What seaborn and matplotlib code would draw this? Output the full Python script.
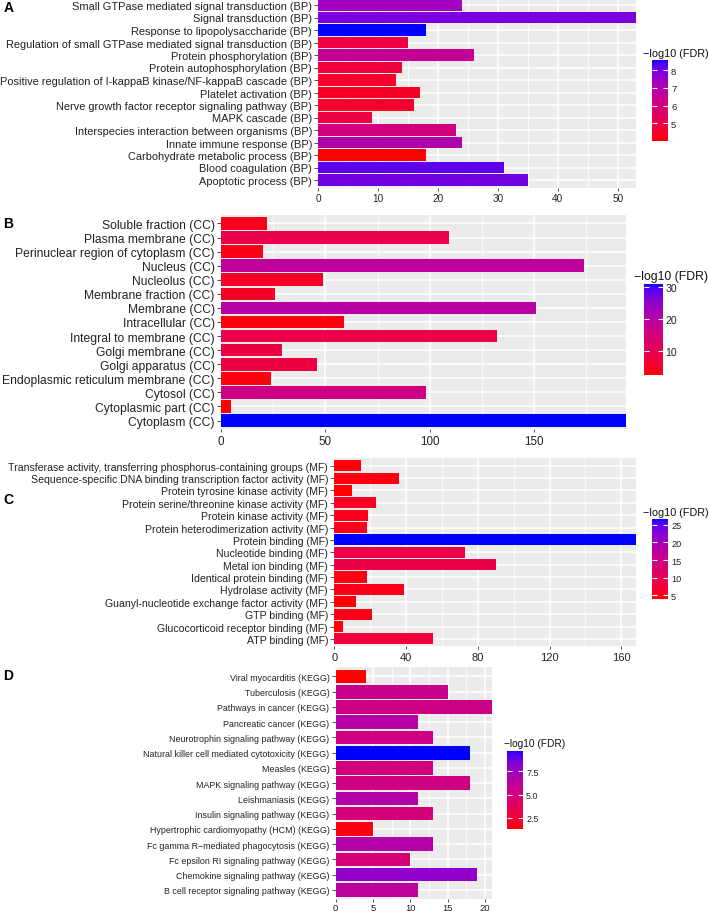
import numpy as np
import pandas as pd
import matplotlib
matplotlib.use("Agg")
import matplotlib.pyplot as plt
import seaborn as sns
from matplotlib.colors import ListedColormap, Normalize
from matplotlib.cm import ScalarMappable
from matplotlib.ticker import MultipleLocator

plt.rcParams['font.family'] = ['Liberation Sans', 'DejaVu Sans']

# ---- data ----
bp_terms = ["Small GTPase mediated signal transduction (BP)", "Signal transduction (BP)",
            "Response to lipopolysaccharide (BP)",
            "Regulation of small GTPase mediated signal transduction (BP)",
            "Protein phosphorylation (BP)", "Protein autophosphorylation (BP)",
            "Positive regulation of I-kappaB kinase/NF-kappaB cascade (BP)",
            "Platelet activation (BP)", "Nerve growth factor receptor signaling pathway (BP)",
            "MAPK cascade (BP)", "Interspecies interaction between organisms (BP)",
            "Innate immune response (BP)", "Carbohydrate metabolic process (BP)",
            "Blood coagulation (BP)", "Apoptotic process (BP)"]
bp_count = [24, 53, 18, 15, 26, 14, 13, 17, 16, 9, 23, 24, 18, 31, 35]
bp_fdr = [7.3, 7.9, 8.58, 4.9, 6.5, 4.8, 4.5, 4.4, 4.5, 4.9, 6.1, 7.0, 4.02, 8.2, 8.0]
bp_ticks = [5, 6, 7, 8]

cc_terms = ["Soluble fraction (CC)", "Plasma membrane (CC)",
            "Perinuclear region of cytoplasm (CC)", "Nucleus (CC)", "Nucleolus (CC)",
            "Membrane fraction (CC)", "Membrane (CC)", "Intracellular (CC)",
            "Integral to membrane (CC)", "Golgi membrane (CC)", "Golgi apparatus (CC)",
            "Endoplasmic reticulum membrane (CC)", "Cytosol (CC)", "Cytoplasmic part (CC)",
            "Cytoplasm (CC)"]
cc_count = [22, 109, 20, 174, 49, 26, 151, 59, 132, 29, 46, 24, 98, 5, 194]
cc_fdr = [4.0, 9.0, 3.5, 19.0, 5.0, 5.0, 20.0, 3.0, 9.0, 8.0, 8.0, 3.0, 16.0, 2.3, 31.0]
cc_ticks = [10, 20, 30]

mf_terms = ["Transferase activity, transferring phosphorus-containing groups (MF)",
            "Sequence-specific DNA binding transcription factor activity (MF)",
            "Protein tyrosine kinase activity (MF)",
            "Protein serine/threonine kinase activity (MF)", "Protein kinase activity (MF)",
            "Protein heterodimerization activity (MF)", "Protein binding (MF)",
            "Nucleotide binding (MF)", "Metal ion binding (MF)",
            "Identical protein binding (MF)", "Hydrolase activity (MF)",
            "Guanyl-nucleotide exchange factor activity (MF)", "GTP binding (MF)",
            "Glucocorticoid receptor binding (MF)", "ATP binding (MF)"]
mf_count = [15, 36, 10, 23, 19, 18, 168, 73, 90, 18, 39, 12, 21, 5, 55]
mf_fdr = [4.2, 4.6, 3.8, 5.6, 5.2, 5.0, 26.7, 8.5, 8.8, 4.5, 4.8, 4.0, 4.8, 4.0, 7.6]
mf_ticks = [5, 10, 15, 20, 25]

kegg_terms = ["Viral myocarditis (KEGG)", "Tuberculosis (KEGG)", "Pathways in cancer (KEGG)",
              "Pancreatic cancer (KEGG)", "Neurotrophin signaling pathway (KEGG)",
              "Natural killer cell mediated cytotoxicity (KEGG)", "Measles (KEGG)",
              "MAPK signaling pathway (KEGG)", "Leishmaniasis (KEGG)",
              "Insulin signaling pathway (KEGG)", "Hypertrophic cardiomyopathy (HCM) (KEGG)",
              "Fc gamma R\u2212mediated phagocytosis (KEGG)",
              "Fc epsilon RI signaling pathway (KEGG)", "Chemokine signaling pathway (KEGG)",
              "B cell receptor signaling pathway (KEGG)"]
kegg_count = [4, 15, 21, 11, 13, 18, 13, 18, 11, 13, 5, 13, 10, 19, 11]
kegg_fdr = [1.3, 5.6, 5.4, 6.5, 5.3, 9.7, 5.1, 5.2, 6.6, 4.9, 1.6, 6.6, 4.8, 7.8, 6.2]
kegg_ticks = [2.5, 5.0, 7.5]


# red -> blue gradient interpolated in CIE Lab (like ggplot's scale_fill_gradient)
def to_lab(rgb):
    c = np.asarray(rgb, float)
    c = np.where(c <= 0.04045, c / 12.92, ((c + 0.055) / 1.055) ** 2.4)
    M = np.array([[0.4124564, 0.3575761, 0.1804375],
                  [0.2126729, 0.7151522, 0.0721750],
                  [0.0193339, 0.1191920, 0.9503041]])
    xyz = M @ c / np.array([0.95047, 1.0, 1.08883])
    d = 6 / 29
    f = np.where(xyz > d ** 3, np.cbrt(xyz), xyz / (3 * d * d) + 4 / 29)
    return np.array([116 * f[1] - 16, 500 * (f[0] - f[1]), 200 * (f[1] - f[2])])


def from_lab(lab):
    L, a, b = lab
    fy = (L + 16) / 116
    f = np.array([fy + a / 500, fy, fy - b / 200])
    d = 6 / 29
    xyz = np.where(f > d, f ** 3, 3 * d * d * (f - 4 / 29)) * np.array([0.95047, 1.0, 1.08883])
    Minv = np.array([[3.2404542, -1.5371385, -0.4985314],
                     [-0.9692660, 1.8760108, 0.0415560],
                     [0.0556434, -0.2040259, 1.0572252]])
    c = np.clip(Minv @ xyz, 0, 1)
    c = np.where(c <= 0.0031308, 12.92 * c, 1.055 * c ** (1 / 2.4) - 0.055)
    return np.clip(c, 0, 1)


lo, hi = to_lab([1, 0, 0]), to_lab([0, 0, 1])
cmap = ListedColormap([from_lab(lo + (hi - lo) * t) for t in np.linspace(0, 1, 256)])

W, H = 709, 912
fig = plt.figure(figsize=(W / 100, H / 100), dpi=100)


def rect(x0, y0, x1, y1):
    return [x0 / W, 1 - y1 / H, (x1 - x0) / W, (y1 - y0) / H]


def panel(letter, terms, count, fdr, cticks, box, cbox, title_xy, step,
          ysize, xsize, csize, tsize, letter_y, fmt="{:g}", xpad=1.5):
    ax = fig.add_axes(rect(*box))
    norm = Normalize(min(fdr), max(fdr))
    df = pd.DataFrame({"term": terms, "count": count, "fdr": fdr})
    pal = {t: cmap(norm(v)) for t, v in zip(terms, fdr)}
    sns.barplot(data=df, x="count", y="term", hue="term", order=terms, palette=pal,
                legend=False, width=0.9, saturation=1, linewidth=0, ax=ax)
    ax.set_xlim(0, max(count))
    ax.set_ylim(len(terms) - 0.4, -0.6)
    ax.set_facecolor("#EBEBEB")
    for s in ax.spines.values():
        s.set_visible(False)
    ax.xaxis.set_major_locator(MultipleLocator(step))
    ax.xaxis.set_minor_locator(MultipleLocator(step / 2))
    ax.set_axisbelow(True)
    ax.grid(True, which="major", color="white", lw=1.1)
    ax.grid(True, which="minor", axis="x", color="white", lw=0.55)
    ax.tick_params(which="minor", length=0)
    ax.tick_params(axis="y", labelsize=ysize, length=3, width=0.6, color="#333333",
                   labelcolor="#222222", pad=1.5)
    ax.tick_params(axis="x", labelsize=xsize, length=2.5, width=0.6, color="#333333",
                   labelcolor="#222222", pad=xpad)
    ax.set_xlabel("")
    ax.set_ylabel("")

    cax = fig.add_axes(rect(*cbox))
    cb = fig.colorbar(ScalarMappable(norm=norm, cmap=cmap), cax=cax)
    cb.outline.set_visible(False)
    cb.set_ticks(cticks)
    cb.set_ticklabels([fmt.format(t) for t in cticks])
    cb.minorticks_off()
    cax.tick_params(axis="y", direction="in", length=3.5, width=0.8, color="white",
                    left=True, right=True, labelleft=False, labelright=True,
                    labelsize=csize, labelcolor="#222222", pad=2)
    fig.text(title_xy[0] / W, 1 - title_xy[1] / H, "\u2212log10 (FDR)",
             fontsize=tsize, color="#111111", ha="left", va="center")
    fig.text(3.5 / W, 1 - letter_y / H, letter, fontsize=10, fontweight="bold",
             ha="left", va="center")
    return ax


panel("A", bp_terms, bp_count, bp_fdr, bp_ticks,
      (318.3, -1.5, 635.7, 188.5), (651.7, 60.7, 668.3, 141.7), (643, 54), 10,
      7.9, 7.2, 6.8, 7.8, 7.5)
panel("B", cc_terms, cc_count, cc_fdr, cc_ticks,
      (221, 216, 626, 430), (644.3, 285, 662.7, 376), (634, 277), 50,
      8.75, 8.4, 7.6, 8.8, 223.5)
panel("C", mf_terms, mf_count, mf_fdr, mf_ticks,
      (334.3, 459.3, 635.7, 647.3), (652.3, 520, 668.3, 600.3), (643, 512.7), 40,
      7.6, 8.0, 6.6, 7.8, 500.5)
panel("D", kegg_terms, kegg_count, kegg_fdr, kegg_ticks,
      (335.7, 668.3, 492.3, 900), (507.3, 751.7, 523.3, 830), (504, 744), 5,
      6.4, 6.8, 6.4, 7.3, 676, fmt="{:.1f}", xpad=0.5)

fig.savefig("out.png", dpi=100)
